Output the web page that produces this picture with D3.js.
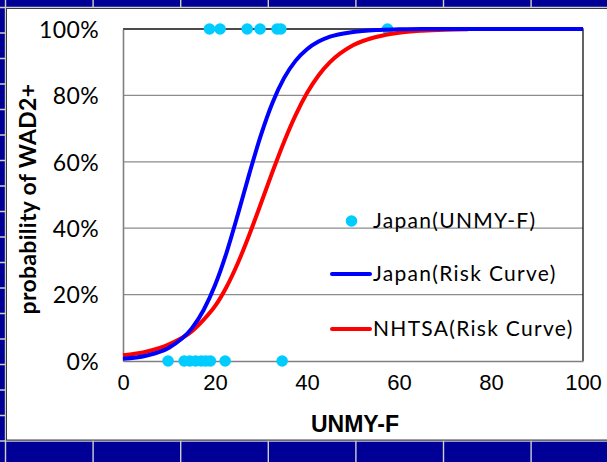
<!DOCTYPE html>
<html>
<head>
<meta charset="utf-8">
<script src="https://cdn.jsdelivr.net/npm/d3@7"></script>
<style>
  html, body { margin: 0; padding: 0; background: #ffffff; }
  svg { display: block; }
</style>
</head>
<body>
<svg id="chart" width="607" height="462"></svg>
<script>
// Observed injury cases (UNMY-F value, outcome 0/100 %)
const caseUnmy   = [18.8, 21.1, 27.0, 29.8, 33.5, 34.3, 57.5,
                    9.8, 13.3, 14.5, 15.8, 17.0, 18.0, 19.0, 22.2, 34.6];
const caseProb   = [100, 100, 100, 100, 100, 100, 100,
                    0, 0, 0, 0, 0, 0, 0, 0, 0];

// Risk curves, read along UNMY-F
const japanX     = [0, 5, 10, 15, 17.5, 20, 22.5, 25, 27.5, 30, 32.5, 35, 37.5, 40, 42.5, 45, 50, 55, 60, 65, 70, 75, 80, 90, 100];
const japanProb  = [0.7, 1.6, 4.0, 9.9, 15.3, 22.8, 32.6, 44.3, 56.6, 68.1, 77.8, 85.2, 90.4, 93.9, 96.2, 97.7, 99.1, 99.7, 99.9, 100, 100, 100, 100, 100, 100];
const nhtsaX     = [0, 5, 10, 15, 17.5, 20, 22.5, 25, 27.5, 30, 32.5, 35, 37.5, 40, 42.5, 45, 50, 55, 60, 65, 70, 75];
const nhtsaProb  = [1.7, 2.8, 5.0, 9.0, 12.4, 16.5, 22.3, 29.6, 38.2, 47.5, 57.0, 66.0, 74.0, 80.7, 86.0, 90.0, 95.1, 97.6, 98.9, 99.5, 99.8, 99.9];

const xTicks = [0, 20, 40, 60, 80, 100];
const yTicks = [0, 20, 40, 60, 80, 100];
const legendLabels = ["Japan(UNMY-F)", "Japan(Risk Curve)", "NHTSA(Risk Curve)"];

const W = 607, H = 462;
const svg = d3.select("#chart");

// ---- slide-table backdrop ----
const navy = "#000096", rule = "#cfcfcf";
svg.append("rect").attr("width", W).attr("height", H).attr("fill", navy);
const colX = d3.range(0, 8).map(k => 5.5 + 87.6 * k);
const rowY = d3.range(0, 19).map(k => 7.5 + 25.5 * k);
svg.append("g").selectAll("line").data(colX).join("line")
  .attr("x1", d => d).attr("x2", d => d).attr("y1", 0).attr("y2", H)
  .attr("stroke", rule).attr("stroke-width", 1.4);
svg.append("g").selectAll("line").data(rowY).join("line")
  .attr("x1", 0).attr("x2", W).attr("y1", d => d).attr("y2", d => d)
  .attr("stroke", rule).attr("stroke-width", 1.4);

// chart panel
svg.append("rect").attr("x", 6.5).attr("y", 8.5).attr("width", W).attr("height", 431.5)
  .attr("fill", "#ffffff").attr("stroke", "#3a3a3a").attr("stroke-width", 1);

// ---- plot ----
const plot = { left: 123, right: 583, top: 29, bottom: 361 };
const x = d3.scaleLinear().domain([0, 100]).range([plot.left, plot.right]);
const y = d3.scaleLinear().domain([0, 100]).range([plot.bottom, plot.top]);

// horizontal gridlines
svg.append("g").selectAll("line").data(yTicks.filter(v => v > 0 && v < 100)).join("line")
  .attr("x1", plot.left).attr("x2", plot.right)
  .attr("y1", d => y(d)).attr("y2", d => y(d))
  .attr("stroke", "#8c8c8c").attr("stroke-width", 1.3);

// plot frame: top and right
svg.append("path")
  .attr("d", `M${plot.left},${y(100)}H${plot.right}V${plot.bottom}`)
  .attr("fill", "none").attr("stroke", "#111").attr("stroke-width", 1.3);

// axes
const yAxis = d3.axisLeft(y).tickValues(yTicks).tickFormat(d => d + "%").tickSize(0).tickPadding(24);
const gy = svg.append("g").attr("transform", `translate(${plot.left},0)`).call(yAxis);
gy.select(".domain").attr("stroke", "#808080").attr("stroke-width", 1.6);
gy.selectAll("text").attr("font-family", "Lato, 'Open Sans', sans-serif").attr("font-size", 23)
  .attr("letter-spacing", 0.4).attr("fill", "#000").attr("dy", "0.36em");

const xAxis = d3.axisBottom(x).tickValues(xTicks).tickSize(0).tickPadding(13);
const gx = svg.append("g").attr("transform", `translate(0,${plot.bottom})`).call(xAxis);
gx.select(".domain").attr("stroke", "#808080").attr("stroke-width", 1.6);
gx.selectAll("text").attr("font-family", "'Liberation Sans', Arial, sans-serif").attr("font-size", 22)
  .attr("fill", "#000");

// axis titles
svg.append("text")
  .attr("x", x(50) + 2).attr("y", 432)
  .attr("text-anchor", "middle")
  .attr("font-family", "'Liberation Sans', Arial, sans-serif")
  .attr("font-weight", "bold").attr("font-size", 23)
  .text("UNMY-F");

svg.append("text")
  .attr("transform", `translate(36,${(plot.top + plot.bottom) / 2 + 4}) rotate(-90)`)
  .attr("text-anchor", "middle")
  .attr("font-family", "Lato, 'Open Sans', sans-serif")
  .attr("font-weight", "bold").attr("font-size", 23)
  .attr("letter-spacing", 0.3)
  .text("probability of WAD2+");

// observed cases
const dotColor = "#00ccff";
svg.append("g").selectAll("circle").data(caseUnmy.map((u, i) => [u, caseProb[i]])).join("circle")
  .attr("cx", d => x(d[0])).attr("cy", d => y(d[1])).attr("r", 5.8)
  .attr("fill", dotColor);

// risk curves
const line = d3.line().x(d => x(d[0])).y(d => y(d[1])).curve(d3.curveMonotoneX);
svg.append("path").datum(nhtsaX.map((v, i) => [v, nhtsaProb[i]]))
  .attr("d", line).attr("fill", "none").attr("stroke", "#ff0000").attr("stroke-width", 4);
svg.append("path").datum(japanX.map((v, i) => [v, japanProb[i]]))
  .attr("d", line).attr("fill", "none").attr("stroke", "#0000ff").attr("stroke-width", 4);

// legend
const legendFont = "Lato, 'Open Sans', sans-serif";
const lg = svg.append("g");
const rows = [
  { label: legendLabels[0], y: 221, kind: "dot", color: dotColor },
  { label: legendLabels[1], y: 274, kind: "line", color: "#0000ff" },
  { label: legendLabels[2], y: 329, kind: "line", color: "#ff0000" }
];
rows.forEach(r => {
  if (r.kind === "dot") {
    lg.append("circle").attr("cx", 351.5).attr("cy", r.y).attr("r", 5.8).attr("fill", r.color);
  } else {
    lg.append("line").attr("x1", 332).attr("x2", 370).attr("y1", r.y).attr("y2", r.y)
      .attr("stroke", r.color).attr("stroke-width", 4).attr("stroke-linecap", "round");
  }
  lg.append("text").attr("x", 373).attr("y", r.y).attr("dy", "0.35em")
    .attr("font-family", legendFont).attr("font-size", 21).attr("letter-spacing", 1.3)
    .attr("fill", "#000")
    .text(r.label);
});
</script>
</body>
</html>
